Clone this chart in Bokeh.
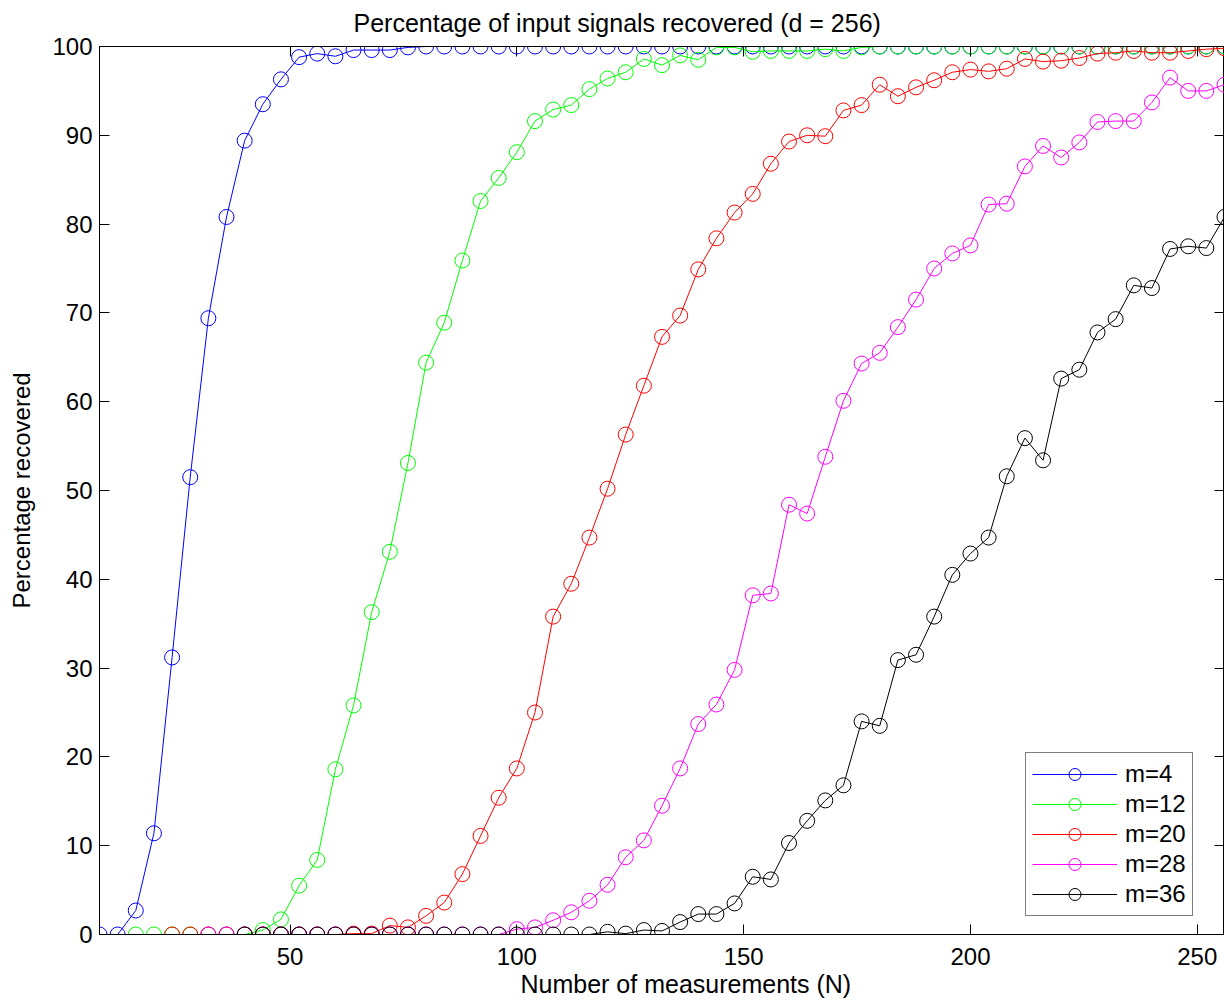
from bokeh.plotting import figure
from bokeh.models import Range1d, LinearAxis, FixedTicker, Legend, LegendItem, Title
from bokeh.embed import file_html
from bokeh.resources import INLINE

FONT = "Liberation Sans"

# Number of measurements grid (N = 8, 12, ..., 256)
N_all = list(range(8, 260, 4))

labels = ["m=4", "m=12", "m=20", "m=28", "m=36"]
colors = ["#0000FF", "#00FF00", "#FF0000", "#FF00FF", "#000000"]
start_N = [8, 16, 24, 32, 40]

m4 = [0, 0, 2.7, 11.4, 31.2, 51.5, 69.4, 80.8, 89.4, 93.5, 96.3, 98.8, 99.2, 98.9,
      99.6, 99.6, 99.6, 99.9,
      100, 100, 100, 100, 100, 100, 100, 100, 100, 100, 100, 100, 100, 100, 100,
      100, 100, 100, 100, 100, 100, 100, 100, 100, 100, 100, 100, 100, 100, 100,
      100, 100, 100, 100, 100, 100, 100, 100, 100, 100, 100, 100, 100, 100, 100]

m12 = [0, 0, 0, 0, 0, 0, 0, 0.5, 1.7, 5.5, 8.4, 18.6, 25.8, 36.3, 43.1, 53.1,
       64.4, 68.9, 75.9, 82.6, 85.2, 88.1, 91.6, 92.9, 93.4, 95.2, 96.4, 97.1,
       98.6, 97.9, 99.0, 98.5, 99.9, 99.9, 99.4, 99.5, 99.5, 99.5, 99.7, 99.5, 99.9,
       100, 100, 100, 100, 100, 100, 100, 100, 100, 100, 100, 100, 100, 100, 100,
       100, 100, 100, 100, 100]

m20 = [0, 0, 0, 0, 0, 0, 0, 0, 0, 0, 0.1, 0.1, 1.0, 0.8, 2.1, 3.6, 6.8, 11.1,
       15.4, 18.7, 25.0, 35.8, 39.5, 44.7, 50.2, 56.3, 61.8, 67.3, 69.7, 74.9,
       78.4, 81.3, 83.4, 86.8, 89.3, 90.0, 89.9, 92.8, 93.4, 95.7, 94.4, 95.4,
       96.2, 97.1, 97.4, 97.2, 97.5, 98.6, 98.3, 98.4, 98.7, 99.2, 99.3, 99.5,
       99.3, 99.3, 99.5, 99.7, 99.8]

m28 = [0, 0, 0, 0, 0, 0, 0, 0, 0, 0, 0, 0, 0, 0, 0, 0, 0,
       0.6, 0.8, 1.6, 2.5, 3.8, 5.6, 8.7, 10.6, 14.5, 18.7, 23.7, 25.9, 29.8,
       38.2, 38.4, 48.4, 47.4, 53.8, 60.1, 64.3, 65.5, 68.4, 71.5, 75.0, 76.7,
       77.6, 82.2, 82.3, 86.5, 88.8, 87.5, 89.2, 91.5, 91.6, 91.6, 93.7, 96.5,
       95.0, 95.0, 95.7]

m36 = [0, 0, 0, 0, 0, 0, 0, 0, 0, 0, 0, 0, 0, 0, 0, 0, 0, 0, 0, 0,
       0.3, 0.1, 0.5, 0.4, 1.4, 2.3, 2.3, 3.5, 6.5, 6.2, 10.3, 12.8, 15.1, 16.8,
       24.0, 23.5, 30.9, 31.5, 35.8, 40.5, 42.9, 44.7, 51.6, 55.9, 53.4, 62.6,
       63.6, 67.8, 69.3, 73.1, 72.8, 77.2, 77.5, 77.3, 80.8]

series = [m4, m12, m20, m28, m36]

x_ticks = [50, 100, 150, 200, 250]
y_ticks = [0, 10, 20, 30, 40, 50, 60, 70, 80, 90, 100]

title_text = "Percentage of input signals recovered (d = 256)"
xlabel_text = "Number of measurements (N)"
ylabel_text = "Percentage recovered"

p = figure(width=1224, height=1002, output_backend="svg", toolbar_location=None,
           x_range=Range1d(8, 256), y_range=Range1d(0, 100),
           min_border_left=99, min_border_right=0, min_border_top=46,
           min_border_bottom=68, x_axis_location=None, y_axis_location=None)
p.background_fill_color = "white"
p.border_fill_color = "white"
p.outline_line_color = "black"
p.outline_line_width = 1
p.xgrid.grid_line_color = None
p.ygrid.grid_line_color = None

p.title.text = title_text
p.title.text_font = FONT
p.title.text_font_size = "25px"
p.title.text_font_style = "normal"
p.title.text_color = "black"
p.title.align = "left"
p.title.offset = 254
p.title.vertical_align = "top"
p.title.standoff = 16


def style_axis(ax, ticks, show_labels):
    ax.ticker = FixedTicker(ticks=ticks)
    ax.minor_tick_line_color = None
    ax.major_tick_in = 10
    ax.major_tick_out = 0
    ax.axis_line_color = "black"
    ax.major_tick_line_color = "black"
    ax.major_label_text_font = FONT
    ax.major_label_text_color = "black"
    ax.major_label_text_font_size = "24px"
    if not show_labels:
        ax.major_label_overrides = {t: "" for t in ticks}
        ax.major_label_standoff = 0


xb = LinearAxis()
style_axis(xb, x_ticks, True)
xb.major_label_standoff = 13
p.add_layout(xb, "below")

yl = LinearAxis()
style_axis(yl, y_ticks, True)
yl.major_label_standoff = 7
yl.axis_label = ylabel_text
yl.axis_label_text_font = FONT
yl.axis_label_text_font_size = "24px"
yl.axis_label_text_font_style = "normal"
yl.axis_label_text_color = "black"
yl.axis_label_standoff = 14
p.add_layout(yl, "left")

xt = LinearAxis()
style_axis(xt, x_ticks, False)
p.add_layout(xt, "above")

yr = LinearAxis()
style_axis(yr, y_ticks, False)
p.add_layout(yr, "right")

xlabel_title = Title(text=xlabel_text, align="left", offset=421, standoff=0,
                     text_font=FONT, text_font_size="25px", text_font_style="normal",
                     text_color="black")
p.add_layout(xlabel_title, "below")

items = []
for lab, col, s0, vals in zip(labels, colors, start_N, series):
    xs = N_all[N_all.index(s0):]
    r_line = p.line(xs, vals, line_color=col, line_width=1)
    r_pts = p.scatter(xs, vals, marker="circle", size=15, line_color=col,
                      line_width=1, fill_alpha=0)
    items.append(LegendItem(label=lab, renderers=[r_line, r_pts]))

legend = Legend(items=items, location=(926, 18))
legend.label_text_font = FONT
legend.label_text_font_size = "24px"
legend.label_text_color = "black"
legend.glyph_width = 85
legend.glyph_height = 30
legend.label_height = 30
legend.label_standoff = 8
legend.spacing = 0
legend.padding = 6
legend.margin = 0
legend.border_line_color = "black"
legend.border_line_width = 1
legend.background_fill_color = "white"
legend.background_fill_alpha = 1
p.add_layout(legend, "center")

open("out.html", "w").write(file_html(p, INLINE))
